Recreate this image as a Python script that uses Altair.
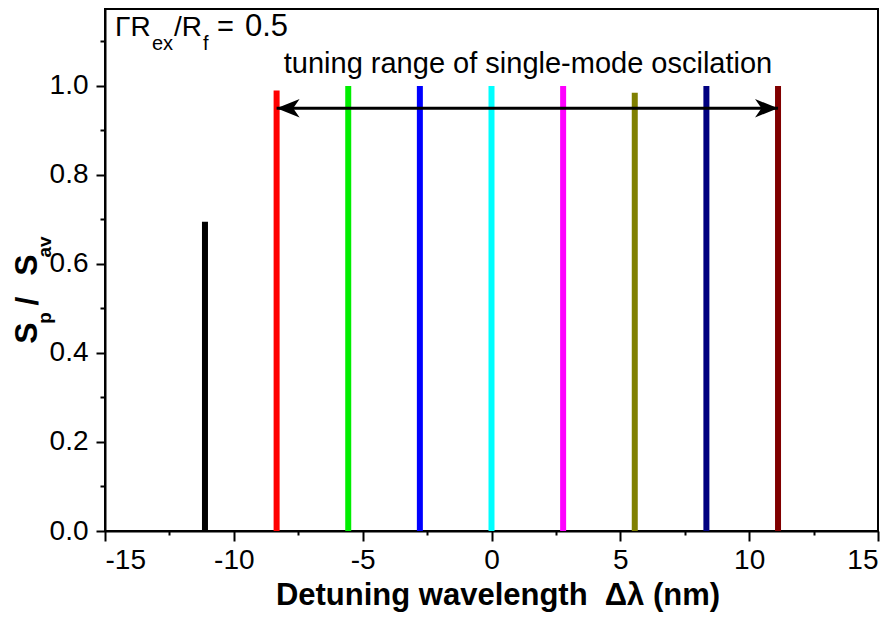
import altair as alt
import pandas as pd

# ---- data ----
names = ["m1", "m2", "m3", "m4", "m5", "m6", "m7", "m8", "m9"]
positions = [-11.12, -8.34, -5.56, -2.78, 0.0, 2.78, 5.56, 8.34, 11.12]
heights = [0.695, 0.99, 1.0, 1.0, 1.0, 1.0, 0.985, 1.0, 1.0]
colors = ["#000000", "#ff0000", "#00ee00", "#0000ff", "#00ffff",
          "#ff00ff", "#808000", "#000080", "#800000"]

x_ticks = [-15, -12.5, -10, -7.5, -5, -2.5, 0, 2.5, 5, 7.5, 10, 12.5, 15]
y_ticks = [0.0, 0.1, 0.2, 0.3, 0.4, 0.5, 0.6, 0.7, 0.8, 0.9, 1.0, 1.1]

arrow_start, arrow_end, arrow_y = -8.34, 11.12, 0.95

FONT = "Liberation Sans"

bars = pd.DataFrame({"name": names, "pos": positions, "h": heights,
                     "zero": [0.0] * len(names)})
arrow = pd.DataFrame({"x1": [arrow_start], "x2": [arrow_end], "y": [arrow_y]})
left_head = pd.DataFrame({"x": [arrow_start], "y": [arrow_y]})
right_head = pd.DataFrame({"x": [arrow_end], "y": [arrow_y]})
dummy = pd.DataFrame({"a": [0]})

xs = alt.Scale(domain=[-15, 15], nice=False, zero=False)
ys = alt.Scale(domain=[0, 1.173], nice=False, zero=False)

x_axis = alt.Axis(
    values=x_ticks, title=None, orient="bottom", grid=False,
    labelExpr="abs(datum.value % 5) > 0.01 ? '' : datum.value + ''",
    tickSize={"condition": {"test": "abs(datum.value % 5) > 0.01", "value": 4}, "value": 10},
    labelPadding=5, labelFontSize=28,
)
y_axis = alt.Axis(
    values=y_ticks, title=None, orient="left", grid=False,
    labelExpr="round(datum.value * 10) % 2 == 1 ? '' : format(datum.value, '.1f')",
    tickSize={"condition": {"test": "round(datum.value * 10) % 2 == 1", "value": 5}, "value": 9},
    labelPadding=8, labelFontSize=28,
)

bar_layer = alt.Chart(bars).mark_rule(strokeWidth=6, strokeCap="butt").encode(
    x=alt.X("pos:Q", scale=xs, axis=x_axis),
    y=alt.Y("zero:Q", scale=ys, axis=y_axis),
    y2="h:Q",
    color=alt.Color("name:N", scale=alt.Scale(domain=names, range=colors), legend=None),
)

arrow_line = alt.Chart(arrow).mark_rule(strokeWidth=3, color="black").encode(
    x=alt.X("x1:Q", scale=xs), x2="x2:Q", y=alt.Y("y:Q", scale=ys)
)
lh = alt.Chart(left_head).mark_point(
    shape="M 0 0 L 1 -0.4 L 0.72 0 L 1 0.4 Z", size=2116, filled=True,
    color="black", opacity=1
).encode(x=alt.X("x:Q", scale=xs), y=alt.Y("y:Q", scale=ys))
rh = alt.Chart(right_head).mark_point(
    shape="M 0 0 L -1 -0.4 L -0.72 0 L -1 0.4 Z", size=2116, filled=True,
    color="black", opacity=1
).encode(x=alt.X("x:Q", scale=xs), y=alt.Y("y:Q", scale=ys))


def txt(s, x, y, size, weight="normal", align="left", angle=0):
    return alt.Chart(dummy).mark_text(
        text=s, font=FONT, fontSize=size, fontWeight=weight, align=align,
        baseline="alphabetic", angle=angle, color="black"
    ).encode(x=alt.value(x), y=alt.value(y))


texts = [
    # top-left label
    txt("\u0393R", 10, 27, 28),
    txt("ex", 47, 41, 20),
    txt("/R", 69, 27, 28),
    txt("f", 98, 41, 20),
    txt("=", 112, 27, 29),
    txt("0.5", 140, 27, 31),
    # annotation
    txt("tuning range of single-mode oscilation", 423, 64, 29, align="center"),
    # x title
    txt("Detuning wavelength\u00a0 \u0394\u03bb (nm)", 393, 596, 31, weight="bold", align="center"),
    # y title (rotated)
    txt("S", -68, 324, 32, weight="bold", align="center", angle=270),
    txt("p", -54, 309, 19, weight="bold", align="center", angle=270),
    txt("/", -67, 292, 32, weight="bold", align="center", angle=270),
    txt("S", -68, 256, 32, weight="bold", align="center", angle=270),
    txt("av", -54, 238, 19, weight="bold", align="center", angle=270),
]

chart = alt.layer(bar_layer, arrow_line, lh, rh, *texts).properties(
    width=773, height=522,
    autosize=alt.AutoSizeParams(type="none"),
    padding={"left": 97, "top": 1, "right": 8, "bottom": 84},
).configure_view(
    stroke="black", strokeWidth=2
).configure_axis(
    domainColor="black", domainWidth=2, tickColor="black", tickWidth=2,
    labelFont=FONT, labelColor="black"
)

chart.save("out.html", embed_options={"renderer": "svg", "actions": False})
